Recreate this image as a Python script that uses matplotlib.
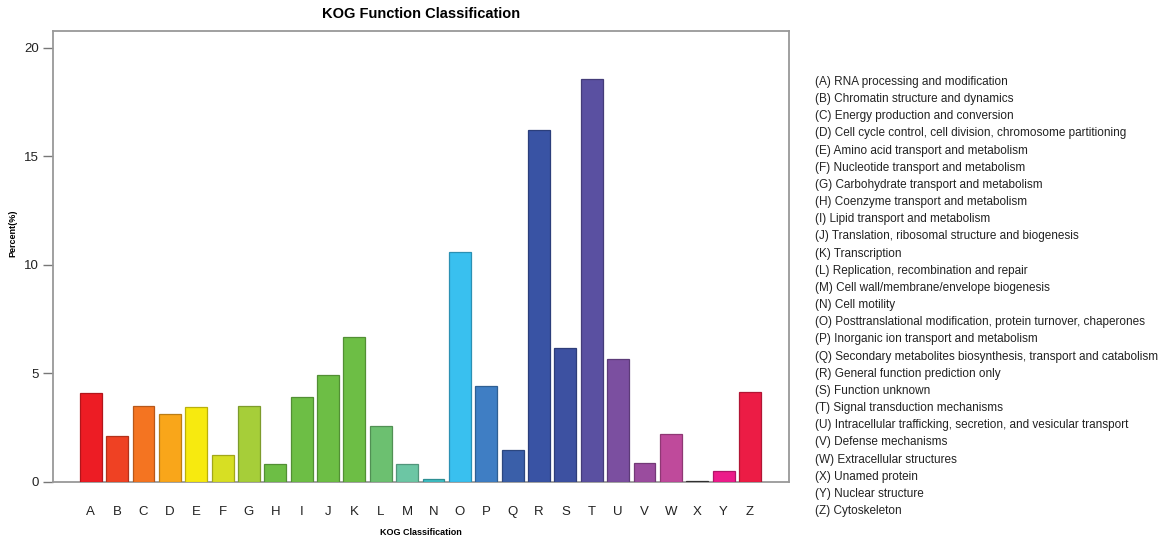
import matplotlib
matplotlib.use("Agg")
import matplotlib.pyplot as plt
import matplotlib.colors as mcolors
import numpy as np

plt.rcParams['font.family'] = ['Liberation Sans', 'DejaVu Sans']

categories = list("ABCDEFGHIJKLMNOPQRSTUVWXYZ")
values = [4.10, 2.14, 3.52, 3.12, 3.44, 1.23, 3.50, 0.85, 3.90, 4.93, 6.67, 2.58,
          0.82, 0.12, 10.60, 4.42, 1.49, 16.24, 6.19, 18.59, 5.67, 0.86, 2.23, 0.03,
          0.52, 4.16]
colors = ["#ED1C24", "#EF4123", "#F47421", "#F9A61A", "#F7EA0F", "#D7DF23",
          "#A6CE39", "#6DBE45", "#6DBE45", "#6DBE45", "#6DBE45", "#6CC070",
          "#6CC6A4", "#3DBFC4", "#39C0EF", "#3F7EC4", "#3A5FA9", "#3953A4",
          "#3D51A1", "#5A50A1", "#7B4FA0", "#9A4C9E", "#BF4A9B", "#404040",
          "#EC1B8A", "#EC1C45"]
descriptions = [
    "RNA processing and modification",
    "Chromatin structure and dynamics",
    "Energy production and conversion",
    "Cell cycle control, cell division, chromosome partitioning",
    "Amino acid transport and metabolism",
    "Nucleotide transport and metabolism",
    "Carbohydrate transport and metabolism",
    "Coenzyme transport and metabolism",
    "Lipid transport and metabolism",
    "Translation, ribosomal structure and biogenesis",
    "Transcription",
    "Replication, recombination and repair",
    "Cell wall/membrane/envelope biogenesis",
    "Cell motility",
    "Posttranslational modification, protein turnover, chaperones",
    "Inorganic ion transport and metabolism",
    "Secondary metabolites biosynthesis, transport and catabolism",
    "General function prediction only",
    "Function unknown",
    "Signal transduction mechanisms",
    "Intracellular trafficking, secretion, and vesicular transport",
    "Defense mechanisms",
    "Extracellular structures",
    "Unamed protein",
    "Nuclear structure",
    "Cytoskeleton",
]
yticks = [0, 5, 10, 15, 20]

fig = plt.figure(figsize=(11.6, 5.4), dpi=100)
ax = fig.add_axes([53/1160, 1-482/540, (789-53)/1160, (482-31)/540])

x = np.arange(len(categories))
edge = [tuple(c*0.75 for c in mcolors.to_rgb(col)) for col in colors]
ax.bar(x, values, width=0.83, color=colors, edgecolor=edge, linewidth=0.9, zorder=3)

ax.set_xlim(-1.43, 26.48)
ax.set_ylim(0, 20.78)
ax.set_yticks(yticks)
ax.set_yticklabels([str(t) for t in yticks], fontsize=9.5, color="#222222")
ax.set_xticks(x)
ax.set_xticklabels(categories, fontsize=9.5, color="#222222")
ax.tick_params(axis='x', length=0, pad=17)
ax.tick_params(axis='y', length=7, width=1.0, color="#777777", pad=3)
for s in ax.spines.values():
    s.set_color("#999999")
    s.set_linewidth(1.3)

ax.set_title("KOG Function Classification", fontsize=10.5, fontweight='bold', pad=9)
ax.set_xlabel("KOG Classification", fontsize=6.5, fontweight='bold')
ax.set_ylabel("Percent(%)", fontsize=6.5, fontweight='bold')
ax.xaxis.set_label_coords(0.5, (482-528)/451)
ax.yaxis.set_label_coords((17-53)/736, 0.5 + (256-233)/451)

y0 = 82
step = (511 - 82) / 25
for i, (c, d) in enumerate(zip(categories, descriptions)):
    fig.text(815/1160, 1 - (y0 + i*step)/540, f"({c}) {d}", fontsize=8.5,
             va='center', ha='left', color="#222222")

fig.savefig("out.png", dpi=100)
